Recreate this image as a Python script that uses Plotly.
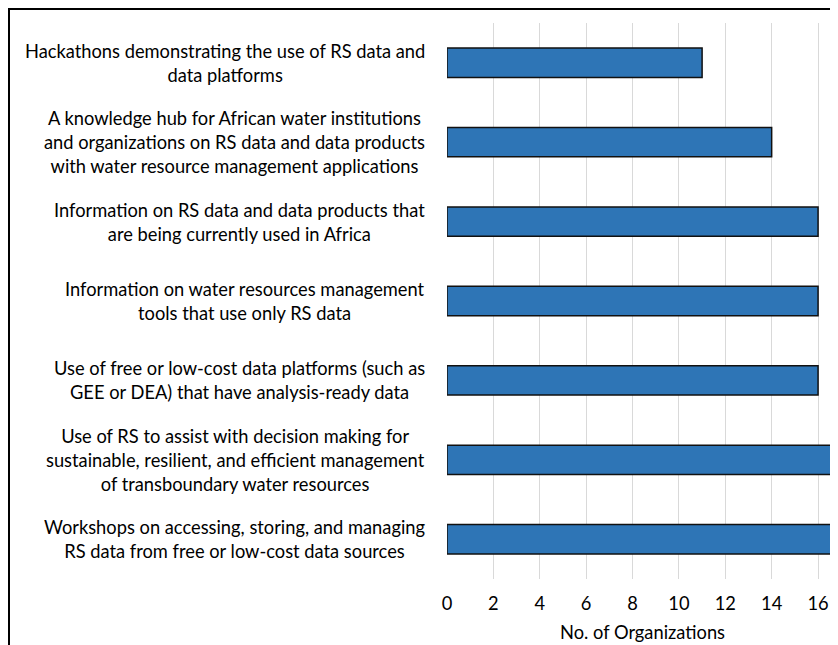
import plotly.graph_objects as go

# categories top to bottom, as shown in the chart
needs = [
    "Hackathons demonstrating the use of RS data and<br>data platforms",
    "A knowledge hub for African water institutions<br>and organizations on RS data and data products<br>with water resource management applications",
    "Information on RS data and data products that<br>are being currently used in Africa",
    "Information on water resources management<br>tools that use only RS data",
    "Use of free or low-cost data platforms (such as<br>GEE or DEA) that have analysis-ready data",
    "Use of RS to assist with decision making for<br>sustainable, resilient, and efficient management<br>of transboundary water resources",
    "Workshops on accessing, storing, and managing<br>RS data from free or low-cost data sources",
]
n_orgs = [11, 14, 16, 16, 16, 18, 18]
x_ticks = [0, 2, 4, 6, 8, 10, 12, 14, 16]

font_name = "Lato"
font_size = 18.3
# the page body adds an 8px margin, so the figure is 8px smaller than the window
W, H = 830, 637
left, right, top, bottom = 439, 0, 15, 66
plot_w = W - left - right
plot_h = H - top - bottom

fig = go.Figure()
fig.add_trace(go.Bar(
    x=n_orgs, y=needs, orientation="h",
    width=0.37,
    marker=dict(color="#2e75b6", line=dict(color="#111111", width=1.5)),
    showlegend=False,
))

# wrapped category labels, lines centred inside a right-aligned block
for lab in needs:
    fig.add_annotation(
        x=0, xref="paper", y=lab, yref="y",
        text=lab, showarrow=False,
        xanchor="right", align="center", xshift=-20,
        font=dict(family=font_name, size=font_size, color="#000000"),
    )

# outer chart frame (only top and left edges are visible in the crop)
fig.add_shape(
    type="rect", xref="paper", yref="paper",
    x0=-(left - 1) / plot_w, x1=2,
    y0=-1, y1=1 + (top - 1) / plot_h,
    line=dict(color="#000000", width=2),
)

fig.update_xaxes(
    range=[0, 16.86],
    tickvals=x_ticks,
    showgrid=True, gridcolor="#d9d9d9", gridwidth=1,
    zeroline=False, showline=False, ticks="",
    ticklabelstandoff=12,
    tickfont=dict(family=font_name, size=font_size, color="#000000"),
    title=dict(text="No. of Organizations", standoff=12,
               font=dict(family=font_name, size=font_size, color="#000000")),
)
fig.update_yaxes(
    autorange="reversed", showticklabels=False,
    showgrid=False, zeroline=False, showline=False, ticks="",
)
fig.update_layout(
    width=W, height=H,
    margin=dict(l=left, r=right, t=top, b=bottom),
    plot_bgcolor="white", paper_bgcolor="white",
    bargap=0.63,
)

fig.write_html("out.html")
